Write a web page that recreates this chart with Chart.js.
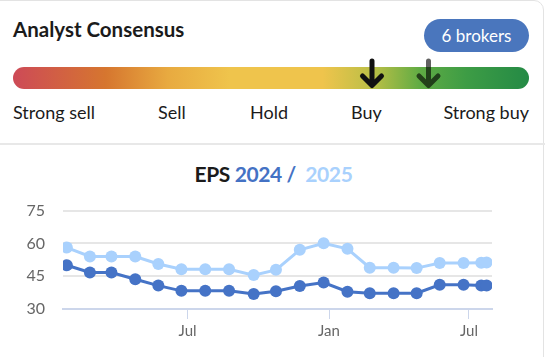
<!DOCTYPE html>
<html>
<head>
<meta charset="utf-8">
<script src="https://cdn.jsdelivr.net/npm/chart.js@4/dist/chart.umd.min.js"></script>
<style>
  html, body { margin:0; padding:0; background:#fff; }
  body { width:547px; height:357px; position:relative; overflow:hidden; font-family: Lato, "Noto Sans", sans-serif; }
  #card { position:absolute; left:-12px; top:0; width:556px; height:400px; border:1px solid #e3e3e3; border-radius:10px; box-sizing:border-box; }
  #sep { position:absolute; left:0; top:143px; width:545px; height:0; border-top:2px solid #e8e8e8; }
  #ttl { position:absolute; left:13px; top:17px; font-size:20.5px; font-weight:700; color:#1b1b1b; }
  #badge { position:absolute; left:424px; top:19px; width:105px; height:33px; border-radius:17px; background:#4a76bd; color:#fff; font-size:17px; line-height:33px; text-align:center; }
  #bar { position:absolute; left:13px; top:67px; width:516px; height:22px; border-radius:11px;
    background: linear-gradient(to right, #cd4a57 0%, #d6762f 18%, #e8aa40 30%, #efc44c 42%, #efc44c 60%, #b9bf46 70%, #5fab44 79%, #3d9c45 88%, #248a45 100%); }
  .lbl { position:absolute; top:101px; font-size:18px; color:#1b1b1b; }
  #title2 { position:absolute; left:0; width:547px; top:161px; text-align:center; font-size:21px; font-weight:700; letter-spacing:-0.4px; }
  #wrap { position:absolute; left:0; top:183px; width:547px; height:174px; }
  canvas { display:block; }
</style>
</head>
<body>
<div id="card"></div>
<div id="sep"></div>
<div id="ttl">Analyst Consensus</div>
<div id="badge">6&nbsp;brokers</div>
<div id="bar"></div>
<svg width="547" height="100" style="position:absolute;left:0;top:0">
  <g opacity="0.62" stroke="#000" stroke-width="5" stroke-linecap="round" stroke-linejoin="round" fill="none">
    <path d="M428.5 61 V84 M419 76 L428.5 85.5 L438 76"/>
  </g>
  <g stroke="#111" stroke-width="5" stroke-linecap="round" stroke-linejoin="round" fill="none">
    <path d="M372 61 V84 M362.5 76 L372 85.5 L381.5 76"/>
  </g>
</svg>
<div class="lbl" style="left:13px">Strong sell</div>
<div class="lbl" style="left:158px">Sell</div>
<div class="lbl" style="left:250px">Hold</div>
<div class="lbl" style="left:351px">Buy</div>
<div class="lbl" style="right:18px">Strong buy</div>
<div id="title2"><span style="color:#1b1b1b">EPS </span><span style="color:#4472c4">2024 /&nbsp; </span><span style="color:#a9d1fd">2025</span></div>
<div id="wrap"><canvas id="c" width="547" height="174"></canvas></div>
<script>
const dates = ['2023-01-25','2023-02-24','2023-03-24','2023-04-24','2023-05-24','2023-06-23','2023-07-24','2023-08-24','2023-09-25','2023-10-24','2023-11-24','2023-12-25','2024-01-25','2024-02-23','2024-03-25','2024-04-24','2024-05-24','2024-06-24','2024-07-17','2024-07-24'];
const eps2024 = [50.0, 46.7, 46.7, 43.6, 40.7, 38.3, 38.3, 38.3, 36.9, 38.1, 40.5, 42.1, 37.9, 37.2, 37.2, 37.2, 41.1, 41.1, 40.7, 40.7];
const eps2025 = [58.1, 54.0, 54.0, 54.0, 50.6, 48.2, 48.2, 48.2, 45.5, 47.9, 57.1, 60.1, 57.5, 48.9, 48.9, 48.7, 51.0, 51.0, 51.2, 51.3];
const tickDates = ['2023-07-01','2024-01-01','2024-07-01'];
const tickLabels = ['Jul','Jan','Jul'];
const yTicks = [30, 45, 60, 75];
const xMin = '2023-01-20', xMax = '2024-07-31';

const day = s => Date.parse(s + 'T00:00:00Z') / 86400000;
const pts = arr => arr.map((v, i) => ({ x: day(dates[i]), y: v }));
const tickPos = tickDates.map(day);

new Chart(document.getElementById('c'), {
  type: 'line',
  data: {
    datasets: [
      { label: 'EPS 2024', data: pts(eps2024), borderColor: '#4573c6', backgroundColor: '#4573c6', borderWidth: 3, pointRadius: 6, pointBorderWidth: 0, tension: 0 },
      { label: 'EPS 2025', data: pts(eps2025), borderColor: '#a9d1fd', backgroundColor: '#a9d1fd', borderWidth: 3, pointRadius: 6, pointBorderWidth: 0, tension: 0 }
    ]
  },
  options: {
    responsive: false, animation: false, maintainAspectRatio: false,
    layout: { padding: { top: 11, right: 55, bottom: 0, left: 0 } },
    plugins: { legend: { display: false }, tooltip: { enabled: false }, title: { display: false } },
    scales: {
      x: {
        type: 'linear', min: day(xMin), max: day(xMax),
        afterBuildTicks: s => { s.ticks = tickPos.map(v => ({ value: v })); },
        afterFit: s => { s.height = 48; },
        ticks: { autoSkip: false, maxRotation: 0, padding: 3, color: '#666', font: { family: 'Lato', size: 15 },
          callback: (v) => { const i = tickPos.indexOf(v); return i >= 0 ? tickLabels[i] : ''; } },
        grid: { drawOnChartArea: false, drawTicks: true, tickLength: 10, color: '#ccd6eb', lineWidth: 1 },
        border: { display: true, color: '#ccd6eb', width: 2 }
      },
      y: {
        min: 30, max: 75,
        afterBuildTicks: s => { s.ticks = yTicks.map(v => ({ value: v })); },
        afterFit: s => { s.width = 63; },
        ticks: { padding: 18, color: '#666', font: { family: 'Lato', size: 16 } },
        grid: { drawTicks: false, color: (ctx) => ctx.tick && ctx.tick.value === 30 ? 'rgba(0,0,0,0)' : '#e6e6e6', lineWidth: 2 },
        border: { display: false }
      }
    }
  }
});
</script>
</body>
</html>
